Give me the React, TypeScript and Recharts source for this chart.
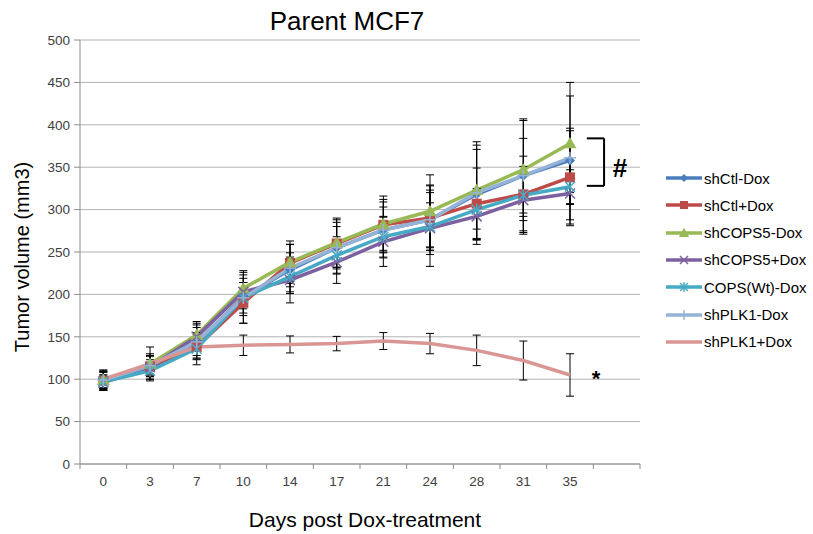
import React from 'react';
import {
  LineChart,
  Line,
  XAxis,
  YAxis,
  CartesianGrid,
  ErrorBar,
  ReferenceLine,
  ReferenceDot,
} from 'recharts';

// x categories (days post Dox treatment)
const days = ['0', '3', '7', '10', '14', '17', '21', '24', '28', '31', '35'];
const yTicks = [0, 50, 100, 150, 200, 250, 300, 350, 400, 450, 500];

// mean tumor volumes (mm3)
const shCtlMinusDox = [98, 113, 143, 197, 229, 255, 276, 288, 318, 340, 358];
const shCtlPlusDox = [98, 115, 138, 190, 237, 260, 282, 290, 307, 318, 338];
const shCOPS5MinusDox = [99, 118, 152, 207, 238, 261, 283, 298, 323, 347, 378];
const shCOPS5PlusDox = [96, 114, 150, 203, 217, 238, 262, 278, 292, 311, 319];
const copsWtMinusDox = [97, 110, 136, 196, 221, 246, 268, 280, 300, 317, 327];
const shPLK1MinusDox = [99, 116, 144, 196, 231, 255, 276, 288, 320, 340, 361];
const shPLK1PlusDox = [100, 118, 138, 140, 141, 142, 145, 142, 134, 122, 105];

// error bar half-lengths
const shCtlMinusDoxErr = [10, 10, 18, 22, 20, 25, 27, 32, 53, 44, 38];
const shCtlPlusDoxErr = [11, 12, 15, 24, 22, 28, 30, 38, 42, 45, 55];
const shCOPS5MinusDoxErr = [12, 20, 16, 21, 25, 29, 33, 43, 57, 60, 72];
const shCOPS5PlusDoxErr = [9, 14, 16, 20, 27, 25, 29, 45, 33, 40, 38];
const copsWtMinusDoxErr = [8, 10, 19, 18, 20, 22, 24, 28, 23, 25, 20];
const shPLK1MinusDoxErr = [10, 12, 20, 30, 28, 30, 33, 41, 56, 65, 73];
const shPLK1PlusDoxErr = [10, 12, 10, 12, 10, 8.5, 10, 12, 18, 23, 25];

type MarkerKind = 'diamond' | 'square' | 'triangle' | 'x' | 'star' | 'plus' | 'none';

const series: {
  key: string;
  name: string;
  color: string;
  marker: MarkerKind;
  values: number[];
  errors: number[];
}[] = [
  { key: 'ctlM', name: 'shCtl-Dox', color: '#4A7EBB', marker: 'diamond', values: shCtlMinusDox, errors: shCtlMinusDoxErr },
  { key: 'ctlP', name: 'shCtl+Dox', color: '#BE4B48', marker: 'square', values: shCtlPlusDox, errors: shCtlPlusDoxErr },
  { key: 'copsM', name: 'shCOPS5-Dox', color: '#98B954', marker: 'triangle', values: shCOPS5MinusDox, errors: shCOPS5MinusDoxErr },
  { key: 'copsP', name: 'shCOPS5+Dox', color: '#7D60A0', marker: 'x', values: shCOPS5PlusDox, errors: shCOPS5PlusDoxErr },
  { key: 'wtM', name: 'COPS(Wt)-Dox', color: '#46AAC5', marker: 'star', values: copsWtMinusDox, errors: copsWtMinusDoxErr },
  { key: 'plkM', name: 'shPLK1-Dox', color: '#95B3D7', marker: 'plus', values: shPLK1MinusDox, errors: shPLK1MinusDoxErr },
  { key: 'plkP', name: 'shPLK1+Dox', color: '#D99694', marker: 'none', values: shPLK1PlusDox, errors: shPLK1PlusDoxErr },
];

// categories sit at the middle of each band, one empty band at the end like Excel
const rows = days.map((day, i) => {
  const row: Record<string, number | string> = { pos: i + 0.5, day };
  series.forEach(s => {
    row[s.key] = s.values[i];
    row[s.key + 'Err'] = s.errors[i];
  });
  return row;
});

const FONT = '"Liberation Sans", Arial, sans-serif';
const PLOT_LEFT = 80;
const PLOT_RIGHT = 640;
const BANDS = 12;
const BAND_W = (PLOT_RIGHT - PLOT_LEFT) / BANDS;

function Marker({ kind, color, cx, cy, s = 1 }: { kind: MarkerKind; color: string; cx: number; cy: number; s?: number }) {
  if (kind === 'diamond') {
    const r = 5 * s;
    return <path d={`M${cx},${cy - r}L${cx + r},${cy}L${cx},${cy + r}L${cx - r},${cy}Z`} fill={color} />;
  }
  if (kind === 'square') {
    const h = 5 * s;
    return <rect x={cx - h} y={cy - h} width={2 * h} height={2 * h} fill={color} />;
  }
  if (kind === 'triangle') {
    const r = 6.5 * s;
    return <path d={`M${cx},${cy - r}L${cx + r},${cy + r * 0.75}L${cx - r},${cy + r * 0.75}Z`} fill={color} />;
  }
  if (kind === 'x') {
    const r = 5 * s;
    return (
      <g stroke={color} strokeWidth={1.5}>
        <line x1={cx - r} y1={cy - r} x2={cx + r} y2={cy + r} />
        <line x1={cx - r} y1={cy + r} x2={cx + r} y2={cy - r} />
      </g>
    );
  }
  if (kind === 'star') {
    const r = 5 * s;
    return (
      <g stroke={color} strokeWidth={1.5}>
        <line x1={cx - r} y1={cy - r} x2={cx + r} y2={cy + r} />
        <line x1={cx - r} y1={cy + r} x2={cx + r} y2={cy - r} />
        <line x1={cx} y1={cy - r * 1.2} x2={cx} y2={cy + r * 1.2} />
      </g>
    );
  }
  if (kind === 'plus') {
    const r = 6 * s;
    return (
      <g stroke={color} strokeWidth={1.5}>
        <line x1={cx - r} y1={cy} x2={cx + r} y2={cy} />
        <line x1={cx} y1={cy - r} x2={cx} y2={cy + r} />
      </g>
    );
  }
  return null;
}

function DayTick(props: any) {
  const { x, y, payload } = props;
  const label = days[payload.value];
  if (label === undefined) return <g />;
  return (
    <text x={x + BAND_W / 2} y={y} dy={15} textAnchor="middle" fontSize={13.5} fill="#404040" fontFamily={FONT}>
      {label}
    </text>
  );
}

export default function App() {
  return (
    <div style={{ position: 'absolute', left: 0, top: 0, width: 813, height: 534, background: '#fff', fontFamily: FONT }}>
      <LineChart width={813} height={534} data={rows} margin={{ top: 40, right: 813 - PLOT_RIGHT, left: 0, bottom: 0 }}>
        <CartesianGrid vertical={false} stroke="#B3B3B3" />
        <XAxis
          dataKey="pos"
          type="number"
          domain={[0, BANDS]}
          ticks={Array.from({ length: BANDS + 1 }, (_, i) => i)}
          interval={0}
          height={70}
          tickSize={5}
          tick={<DayTick />}
          tickLine={{ stroke: '#8C8C8C' }}
          axisLine={{ stroke: '#8C8C8C' }}
        />
        <YAxis
          width={PLOT_LEFT}
          domain={[0, 500]}
          ticks={yTicks}
          interval={0}
          tickSize={6}
          tickMargin={4}
          tick={{ fill: '#404040', fontSize: 13.5, fontFamily: FONT }}
          tickLine={{ stroke: '#8C8C8C' }}
          axisLine={{ stroke: '#8C8C8C' }}
        />
        {series.map(s => (
          <Line
            key={s.key}
            dataKey={s.key}
            name={s.name}
            stroke={s.color}
            strokeWidth={3.5}
            activeDot={false}
            isAnimationActive={false}
            dot={
              s.marker === 'none'
                ? false
                : (p: any) => (
                    <g key={`${s.key}-${p.index}`}>
                      <Marker kind={s.marker} color={s.color} cx={p.cx} cy={p.cy} />
                    </g>
                  )
            }
          >
            <ErrorBar dataKey={s.key + 'Err'} direction="y" width={4} stroke="#000" strokeWidth={1} />
          </Line>
        ))}
        {/* significance bracket for the 35-day group */}
        <ReferenceLine segment={[{ x: 10.86, y: 384 }, { x: 11.23, y: 384 }]} stroke="#000" strokeWidth={2} ifOverflow="visible" />
        <ReferenceLine segment={[{ x: 11.23, y: 384 }, { x: 11.23, y: 328 }]} stroke="#000" strokeWidth={2} ifOverflow="visible" />
        <ReferenceLine segment={[{ x: 10.86, y: 328 }, { x: 11.23, y: 328 }]} stroke="#000" strokeWidth={2} ifOverflow="visible" />
        <ReferenceDot
          x={11.57}
          y={349}
          ifOverflow="visible"
          shape={(p: any) => (
            <text x={p.cx} y={p.cy} dy={9} textAnchor="middle" fontSize={26} fontWeight="bold" fontFamily={FONT} fill="#000">
              #
            </text>
          )}
        />
        <ReferenceDot
          x={11.06}
          y={104}
          ifOverflow="visible"
          shape={(p: any) => (
            <text x={p.cx} y={p.cy} dy={10} textAnchor="middle" fontSize={22} fontWeight="bold" fontFamily={FONT} fill="#000">
              *
            </text>
          )}
        />
      </LineChart>

      <div style={{ position: 'absolute', left: 347, top: 6, transform: 'translateX(-50%)', fontSize: 26, color: '#000', whiteSpace: 'nowrap' }}>
        Parent MCF7
      </div>
      <div style={{ position: 'absolute', left: 365, top: 508, transform: 'translateX(-50%)', fontSize: 21, color: '#000', whiteSpace: 'nowrap' }}>
        Days post Dox-treatment
      </div>
      <div
        style={{
          position: 'absolute',
          left: 22,
          top: 257,
          transform: 'translate(-50%, -50%) rotate(-90deg)',
          fontSize: 20,
          color: '#000',
          whiteSpace: 'nowrap',
        }}
      >
        Tumor volume (mm3)
      </div>

      <div style={{ position: 'absolute', left: 666, top: 168 }}>
        {series.map((s, i) => (
          <div key={s.key} style={{ position: 'absolute', left: 0, top: i * 27.3, height: 20, display: 'flex', alignItems: 'center', whiteSpace: 'nowrap' }}>
            <svg width={37} height={20} style={{ display: 'block' }}>
              <line x1={0} y1={10} x2={36} y2={10} stroke={s.color} strokeWidth={3.5} />
              <Marker kind={s.marker} color={s.color} cx={18} cy={10} s={0.8} />
            </svg>
            <span style={{ fontSize: 15, color: '#000', marginLeft: 1 }}>{s.name}</span>
          </div>
        ))}
      </div>
    </div>
  );
}
